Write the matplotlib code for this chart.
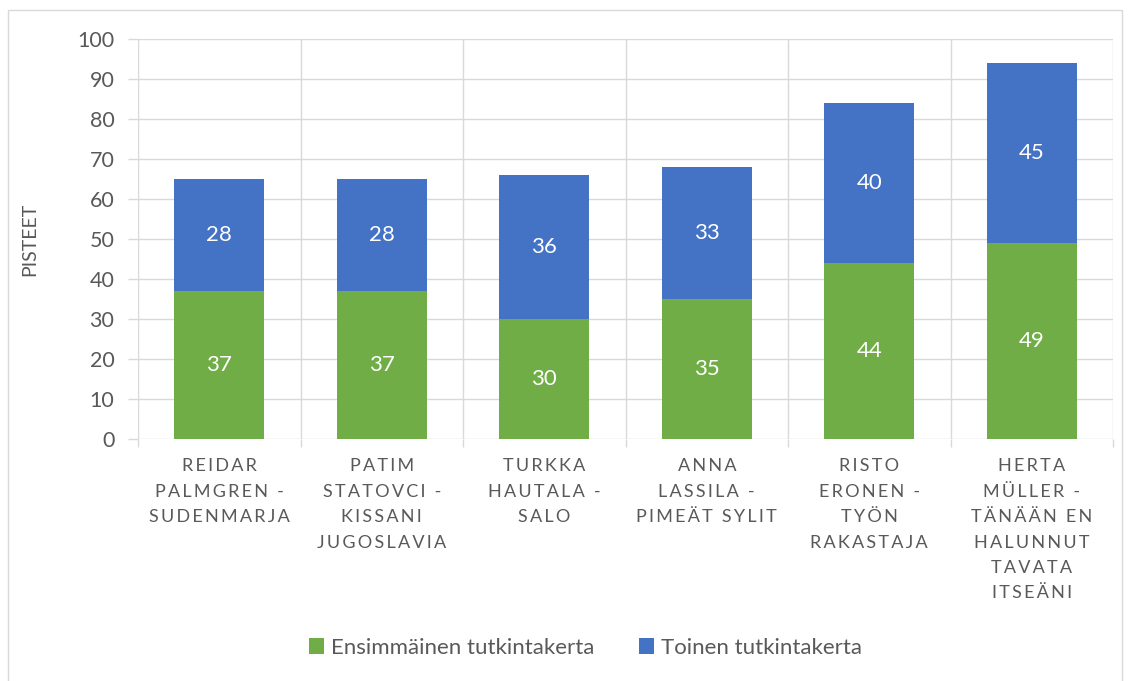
import matplotlib.pyplot as plt
from matplotlib.patches import Rectangle
import numpy as np

plt.rcParams['font.family'] = ['Lato', 'DejaVu Sans']

categories = ["REIDAR\nPALMGREN -\nSUDENMARJA",
              "PATIM\nSTATOVCI -\nKISSANI\nJUGOSLAVIA",
              "TURKKA\nHAUTALA -\nSALO",
              "ANNA\nLASSILA -\nPIMEÄT SYLIT",
              "RISTO\nERONEN -\nTYÖN\nRAKASTAJA",
              "HERTA\nMÜLLER -\nTÄNÄÄN EN\nHALUNNUT\nTAVATA\nITSEÄNI"]
first = [37, 37, 30, 35, 44, 49]
second = [28, 28, 36, 33, 40, 45]
series_names = ["Ensimmäinen tutkintakerta", "Toinen tutkintakerta"]

GREEN = '#70AD47'
BLUE = '#4472C4'
TXT = '#595959'
GRID = '#D9D9D9'


def spaced(s):
    # Excel-style letter spacing for category labels
    return "\n".join("\u2009".join(ch for ch in line) for line in s.split("\n"))


def main():
    fig = plt.figure(figsize=(11.32, 6.81), dpi=100)
    ax = fig.add_axes([138 / 1132, 1 - 439 / 681, (1113 - 138) / 1132, 400 / 681])

    # outer chart border
    fig.patches.append(Rectangle((8 / 1132, -0.01), (1122 - 8) / 1132, 1 - 10 / 681 + 0.01,
                                 transform=fig.transFigure, fill=False,
                                 edgecolor=GRID, linewidth=1))

    x = np.arange(len(categories))
    b1 = ax.bar(x, first, width=0.555, color=GREEN, label=series_names[0], zorder=3)
    b2 = ax.bar(x, second, width=0.555, bottom=first, color=BLUE, label=series_names[1], zorder=3)

    for rect, v in zip(b1, first):
        ax.text(rect.get_x() + rect.get_width() / 2, v / 2, str(v), ha='center', va='center',
                color='white', fontsize=16, zorder=4)
    for rect, v, b in zip(b2, second, first):
        ax.text(rect.get_x() + rect.get_width() / 2, b + v / 2, str(v), ha='center', va='center',
                color='white', fontsize=16, zorder=4)

    ax.set_xlim(-0.5, len(categories) - 0.5)
    ax.set_ylim(0, 100)
    ax.set_yticks(range(0, 101, 10))
    ax.yaxis.grid(True, color=GRID, linewidth=1, zorder=0)

    # category boundaries as vertical grid lines
    bounds = np.arange(-0.5, len(categories), 1.0)
    for bx in bounds:
        ax.axvline(bx, color=GRID, linewidth=1, zorder=0)
    ax.set_xticks(bounds, minor=True)
    ax.set_xticks(x)
    ax.set_xticklabels([spaced(c) for c in categories], fontsize=13, color=TXT,
                       linespacing=1.72, va='top')
    ax.tick_params(axis='x', which='major', length=0, pad=14)
    ax.tick_params(axis='x', which='minor', length=6, color=GRID, width=1)
    ax.tick_params(axis='y', length=7, color=GRID, width=1, labelsize=15.5, labelcolor=TXT, pad=10)

    for s in ax.spines.values():
        s.set_visible(False)

    ax.set_ylabel('PISTEET', fontsize=14, color=TXT, labelpad=28)

    fig.legend(handles=[b1, b2], labels=series_names, loc='center', bbox_to_anchor=(0.517, 1 - 648 / 681),
               ncol=2, frameon=False, fontsize=16, handlelength=0.7, handleheight=0.7,
               handletextpad=0.3, columnspacing=2.0, labelcolor=TXT)

    fig.savefig('out.png', dpi=100)


if __name__ == '__main__':
    main()
